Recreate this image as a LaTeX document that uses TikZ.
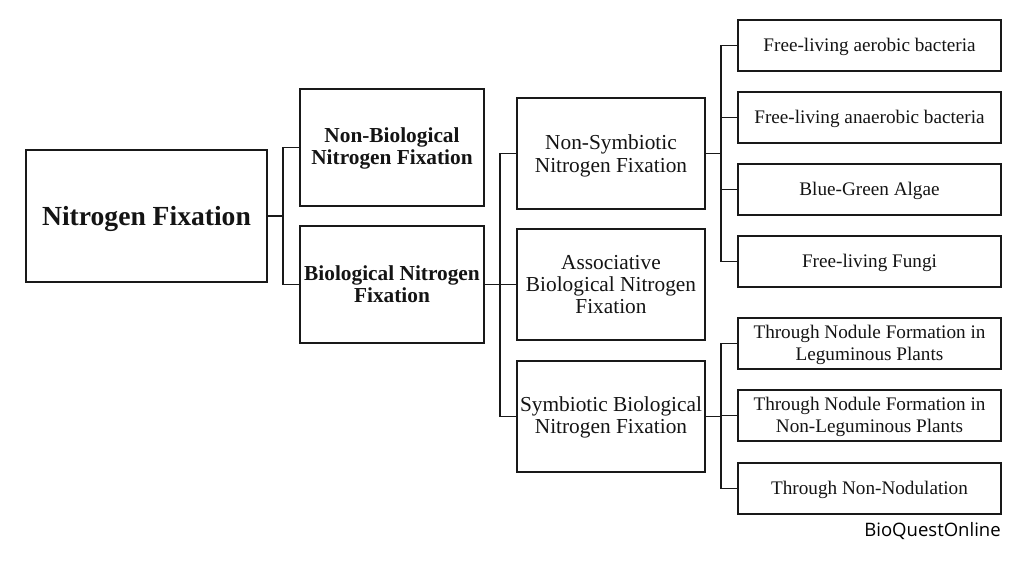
\documentclass[tikz,border=0pt]{standalone}
\usepackage{fontspec}
\setmainfont{Liberation Serif}
\newfontfamily\markfont{Open Sans}
\newcommand{\lbl}[2][-1.5pt]{\raisebox{#1}[\height][\depth]{\begin{tabular}{@{}c@{}}#2\end{tabular}}}
\tikzset{
  px/.style={x=0.75pt,y=-0.75pt},
  boxbase/.style={draw=black!90,line width=1.3pt,fill=white,align=center,inner sep=0pt,text=black!92},
  rootbox/.style={boxbase,minimum width=180.75pt,minimum height=99pt,font=\fontsize{20.7}{24}\selectfont\bfseries},
  catbox/.style={boxbase,minimum width=138pt,minimum height=87.75pt,font=\fontsize{16}{16.6}\selectfont\bfseries},
  midbox/.style={boxbase,minimum width=141pt,minimum height=83.25pt,font=\fontsize{16}{16.6}\selectfont},
  leafbox/.style={boxbase,minimum width=197.25pt,minimum height=38.25pt,font=\fontsize{14.4}{16.4}\selectfont},
  link/.style={draw=black!90,line width=1.3pt},
  credit/.style={font=\markfont\fontsize{13.9}{16}\selectfont,anchor=east,inner sep=0pt}
}
\begin{document}
\begin{tikzpicture}[px]
\useasboundingbox (0,0) rectangle (1024,576);
\node[rootbox] (root) at (146.5,216) {\lbl[-2.25pt]{Nitrogen Fixation}};
\node[catbox] (nb) at (392,147.5) {\lbl[-1.1pt]{Non-Biological\\Nitrogen Fixation}};
\node[catbox] (bio) at (392,284.5) {\lbl[-1.9pt]{Biological Nitrogen\\Fixation}};
\node[midbox] (ns) at (611,153.5) {\lbl[-2.25pt]{Non-Symbiotic\\Nitrogen Fixation}};
\node[midbox] (as) at (611,284.5) {\lbl[-2pt]{Associative\\Biological Nitrogen\\Fixation}};
\node[midbox] (sy) at (611,416.5) {\lbl[-1.2pt]{Symbiotic Biological\\Nitrogen Fixation}};
\node[leafbox] (l1) at (869.5,45.5) {\lbl{Free-living aerobic bacteria}};
\node[leafbox] (l2) at (869.5,117.5) {\lbl{Free-living anaerobic bacteria}};
\node[leafbox] (l3) at (869.5,189.5) {\lbl{Blue-Green Algae}};
\node[leafbox] (l4) at (869.5,261.5) {\lbl{Free-living Fungi}};
\node[leafbox] (l5) at (869.5,343.5) {\lbl{Through Nodule Formation in\\Leguminous Plants}};
\node[leafbox] (l6) at (869.5,415.5) {\lbl{Through Nodule Formation in\\Non-Leguminous Plants}};
\node[leafbox] (l7) at (869.5,488.5) {\lbl{Through Non-Nodulation}};
\node[credit] (mark) at (1001,531) {BioQuestOnline};
\coordinate (j1) at (283,216);
\coordinate (j2) at (500,284.5);
\coordinate (j3) at (721,153.5);
\coordinate (j4) at (721,416.5);
\draw[link] (root.east) -- (j1);
\draw[link] (nb.west) -| (j1);
\draw[link] (bio.west) -| (j1);
\draw[link] (bio.east) -- (as.west);
\draw[link] (ns.west) -| (j2);
\draw[link] (sy.west) -| (j2);
\draw[link] (ns.east) -- (j3);
\foreach \n in {l1,l2,l3,l4} \draw[link] (\n.west) -| (j3);
\draw[link] (sy.east) -- (j4);
\foreach \n in {l5,l6,l7} \draw[link] (\n.west) -| (j4);
\end{tikzpicture}
\end{document}
